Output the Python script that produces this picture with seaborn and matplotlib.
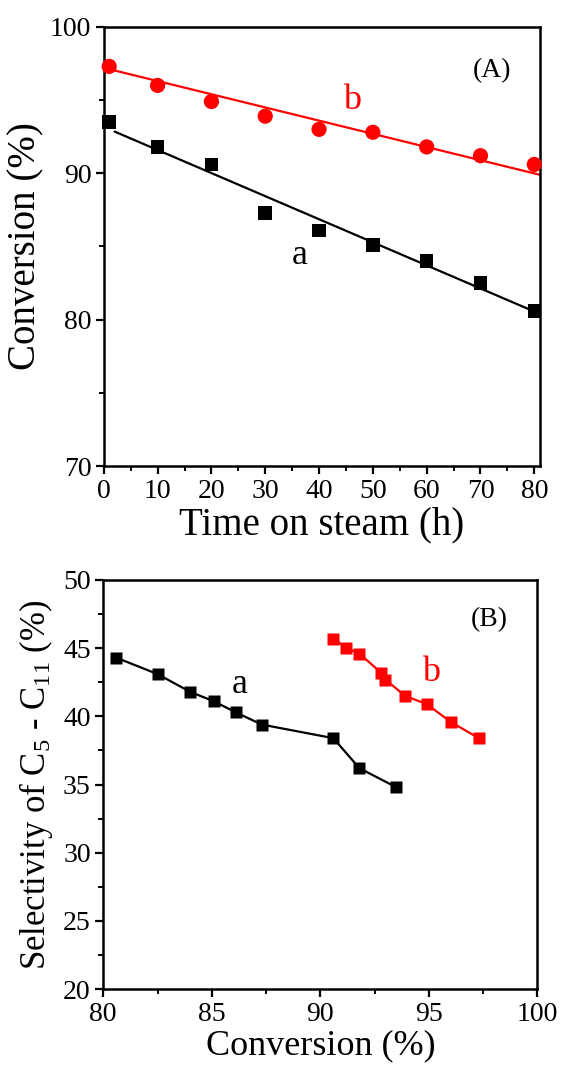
import numpy as np
import matplotlib
matplotlib.use("Agg")
import matplotlib.pyplot as plt
import seaborn as sns
from matplotlib.ticker import MultipleLocator

# data
time_h = [1, 10, 20, 30, 40, 50, 60, 70, 80]
conv_a = [93.5, 91.8, 90.6, 87.3, 86.1, 85.1, 84.0, 82.5, 80.6]
conv_b = [97.3, 96.0, 94.9, 93.9, 93.0, 92.8, 91.8, 91.2, 90.6]
# linear fit lines as drawn in the figure
fit_a_x = [2, 81]
fit_a_y = [92.85, 80.4]
fit_b_x = [0, 81]
fit_b_y = [97.2, 89.9]
# selectivity of C5-C11 vs conversion (same time order)
sel_a = [34.8, 36.2, 38.4, 39.4, 40.3, 41.1, 41.8, 43.1, 44.3]
sel_b = [38.4, 39.6, 40.9, 41.5, 42.7, 43.2, 44.6, 45.0, 45.7]

sns.set_style("ticks")
plt.rcParams['font.family'] = ['Liberation Serif', 'DejaVu Serif']
plt.rcParams['mathtext.fontset'] = 'custom'
plt.rcParams['mathtext.rm'] = 'Liberation Serif'
plt.rcParams['mathtext.it'] = 'Liberation Serif:italic'
plt.rcParams['mathtext.bf'] = 'Liberation Serif:bold'
for key in ['text.color', 'axes.labelcolor', 'xtick.color', 'ytick.color',
            'axes.edgecolor']:
    plt.rcParams[key] = 'black'

fig = plt.figure(figsize=(5.61, 10.74), dpi=100)
ax1 = fig.add_axes([0.185, 0.566, 0.777, 0.409])
ax2 = fig.add_axes([0.184, 0.079, 0.774, 0.381])


def style_axis(ax):
    for s in ax.spines.values():
        s.set_linewidth(1.8)
    ax.tick_params(axis='both', which='major', direction='out', length=5.5,
                   width=1.6, labelsize=20, top=False, right=False)
    ax.tick_params(axis='both', which='minor', direction='out', length=3.5,
                   width=1.4, top=False, right=False)


# Panel A: conversion vs time on steam
ax1.set_xlim(0, 81)
ax1.set_ylim(70, 100)
ax1.plot(fit_b_x, fit_b_y, color='red', lw=1.6)
ax1.plot(fit_a_x, fit_a_y, color='black', lw=1.6)
sns.scatterplot(x=time_h, y=conv_a, ax=ax1, marker='s', color='black',
                s=95, edgecolor='none', clip_on=False, zorder=3)
sns.scatterplot(x=time_h, y=conv_b, ax=ax1, marker='o', color='red',
                s=120, edgecolor='none', clip_on=False, zorder=3)
ax1.xaxis.set_major_locator(MultipleLocator(10))
ax1.xaxis.set_minor_locator(MultipleLocator(5))
ax1.yaxis.set_major_locator(MultipleLocator(10))
ax1.yaxis.set_minor_locator(MultipleLocator(5))
style_axis(ax1)
ax1.set_xlabel('Time on steam (h)', fontsize=28, labelpad=2)
ax1.set_ylabel('Conversion (%)', fontsize=28, labelpad=4)
ax1.text(72.2, 97.0, '(A)', fontsize=20, ha='center', va='center')
ax1.text(46.2, 95.0, 'b', fontsize=26, color='red', ha='center', va='center')
ax1.text(36.4, 84.4, 'a', fontsize=26, color='black', ha='center', va='center')

# Panel B: selectivity vs conversion
ax2.set_xlim(80, 100)
ax2.set_ylim(20, 50)
sns.lineplot(x=conv_a, y=sel_a, ax=ax2, color='black', lw=1.6, marker='s',
             markersize=9, markeredgecolor='none', sort=True)
sns.lineplot(x=conv_b, y=sel_b, ax=ax2, color='red', lw=1.6, marker='s',
             markersize=8.5, markeredgecolor='none', sort=True)
ax2.xaxis.set_major_locator(MultipleLocator(5))
ax2.xaxis.set_minor_locator(MultipleLocator(2.5))
ax2.yaxis.set_major_locator(MultipleLocator(5))
ax2.yaxis.set_minor_locator(MultipleLocator(2.5))
style_axis(ax2)
ax2.set_xlabel('Conversion (%)', fontsize=26, labelpad=2)
ax2.set_ylabel(r'Selectivity of C$_5$ - C$_{11}$ (%)', fontsize=25, labelpad=6)
ax2.text(97.8, 47.1, '(B)', fontsize=20, ha='center', va='center')
ax2.text(95.1, 43.2, 'b', fontsize=26, color='red', ha='center', va='center')
ax2.text(86.3, 42.3, 'a', fontsize=26, color='black', ha='center', va='center')

fig.savefig('out.png', dpi=100, facecolor='white')
